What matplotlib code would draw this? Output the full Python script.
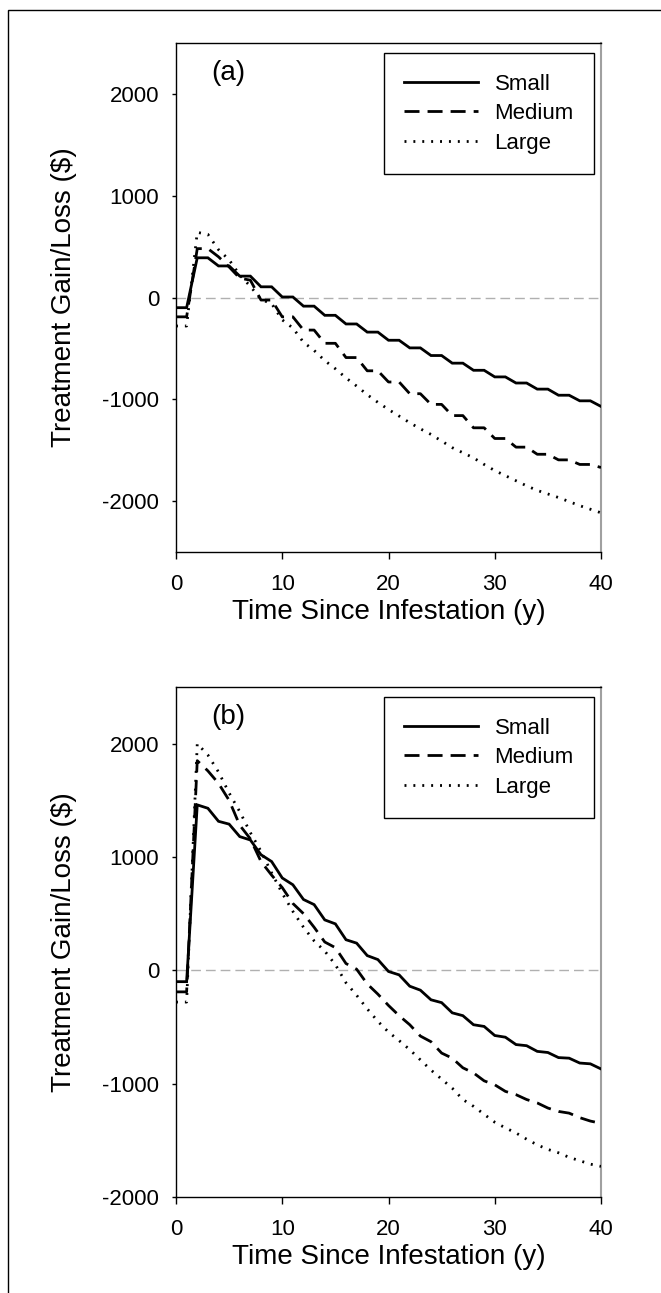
import matplotlib
matplotlib.use("Agg")
import matplotlib.pyplot as plt
from matplotlib.patches import Rectangle

plt.rcParams['font.family'] = ['Liberation Sans', 'DejaVu Sans']
plt.rcParams['axes.unicode_minus'] = False

years = list(range(0, 41))

# Panel (a)
a_small = [-100, -100, 390, 390, 310, 310, 210, 210, 105, 105, 5, 5, -85, -85,
           -175, -175, -260, -260, -340, -340, -420, -420, -495, -495, -570, -570,
           -645, -645, -715, -715, -780, -780, -840, -840, -900, -900, -960, -960,
           -1015, -1015, -1070]
a_medium = [-190, -190, 480, 480, 400, 300, 190, 170, -25, -25, -190, -190, -320, -320,
            -450, -450, -590, -590, -720, -720, -830, -830, -945, -945, -1050, -1050,
            -1160, -1160, -1280, -1280, -1385, -1385, -1470, -1470, -1540, -1540,
            -1595, -1595, -1640, -1640, -1670]
a_large = [-280, -280, 640, 620, 470, 370, 220, 110, -20, -60, -220, -300, -440, -520,
           -620, -700, -790, -870, -955, -1030, -1100, -1165, -1230, -1290, -1345,
           -1410, -1475, -1525, -1575, -1640, -1700, -1750, -1800, -1850, -1895,
           -1930, -1965, -2005, -2045, -2080, -2115]

# Panel (b)
b_small = [-100, -100, 1460, 1430, 1315, 1290, 1180, 1150, 1020, 960, 815, 755, 625, 580,
           445, 410, 270, 240, 130, 95, -10, -40, -140, -175, -260, -285, -375, -400,
           -480, -495, -575, -590, -655, -665, -715, -725, -770, -775, -818, -825, -870]
b_medium = [-190, -190, 1850, 1760, 1650, 1500, 1280, 1160, 960, 840, 730, 590, 500, 380,
            250, 200, 60, 10, -120, -210, -310, -400, -480, -580, -630, -730, -775, -860,
            -905, -975, -1010, -1068, -1097, -1140, -1170, -1215, -1245, -1260, -1300,
            -1330, -1350]
b_large = [-280, -280, 2000, 1900, 1750, 1565, 1400, 1215, 1050, 860, 680, 520, 380, 260,
           170, 50, -110, -220, -340, -450, -545, -620, -700, -790, -880, -960, -1040,
           -1140, -1200, -1270, -1340, -1390, -1435, -1490, -1540, -1580, -1610, -1650,
           -1680, -1710, -1730]

series_labels = ["Small", "Medium", "Large"]
panel_labels = ["(a)", "(b)"]
x_ticks = [0, 10, 20, 30, 40]
y_ticks = [-2000, -1000, 0, 1000, 2000]
xlabel = "Time Since Infestation (y)"
ylabel = "Treatment Gain/Loss ($)"

W, H = 661, 1293
fig = plt.figure(figsize=(W / 100, H / 100), dpi=100)

# outer frame (left and top edges visible)
fig.patches.append(Rectangle((8 / W, -0.1), 1.2, 1 - 10 / H + 0.1, transform=fig.transFigure,
                             fill=False, edgecolor='black', linewidth=1.0))

def px_axes(left, top, right, bottom):
    return [left / W, 1 - bottom / H, (right - left) / W, (bottom - top) / H]

axes_specs = [
    (px_axes(176, 43, 601, 552), (-2500, 2500), (a_small, a_medium, a_large)),
    (px_axes(176, 687, 601, 1197), (-2000, 2500), (b_small, b_medium, b_large)),
]

styles = [
    dict(linestyle='-', linewidth=2.0),
    dict(linestyle=(0, (5.4, 2.9)), linewidth=2.0),
    dict(linestyle=(0, (0.7, 2.5)), linewidth=2.0),
]

for i, (rect, ylim, data) in enumerate(axes_specs):
    ax = fig.add_axes(rect)
    ax.axhline(0, color='#b0b0b0', linewidth=1.0, linestyle=(0, (7, 3.6)), zorder=1)
    for vals, lab, st in zip(data, series_labels, styles):
        ax.plot(years, vals, color='black', label=lab, zorder=3,
                dash_capstyle='butt', solid_joinstyle='miter', **st)
    ax.set_xlim(0, 40)
    ax.set_ylim(*ylim)
    ax.set_xticks(x_ticks)
    ax.set_yticks(y_ticks)
    ax.tick_params(axis='x', direction='out', length=5, width=1, pad=11, labelsize=16)
    ax.tick_params(axis='y', direction='out', length=3.2, width=1, pad=9, labelsize=16)
    for s in ['left', 'bottom', 'top']:
        ax.spines[s].set_linewidth(1.0)
        ax.spines[s].set_color('black')
    ax.spines['right'].set_color('#a0a0a0')
    ax.spines['right'].set_linewidth(1.5)
    ax.text(0.5, -0.118, xlabel, transform=ax.transAxes, ha='center', va='center',
            fontsize=20)
    ax.text(-0.2635, 0.5, ylabel, transform=ax.transAxes, ha='center', va='center',
            rotation=90, fontsize=20)
    ax.text(0.124, 0.942, panel_labels[i], transform=ax.transAxes, ha='center',
            va='center', fontsize=20)
    leg = ax.legend(loc='upper left', bbox_to_anchor=(0.489, 0.980), borderaxespad=0,
                    fontsize=16, handlelength=3.3, handletextpad=0.76,
                    borderpad=0.92, labelspacing=0.38, fancybox=False, framealpha=1,
                    edgecolor='black')
    leg.get_frame().set_linewidth(1.0)

fig.savefig("out.png", dpi=100)
